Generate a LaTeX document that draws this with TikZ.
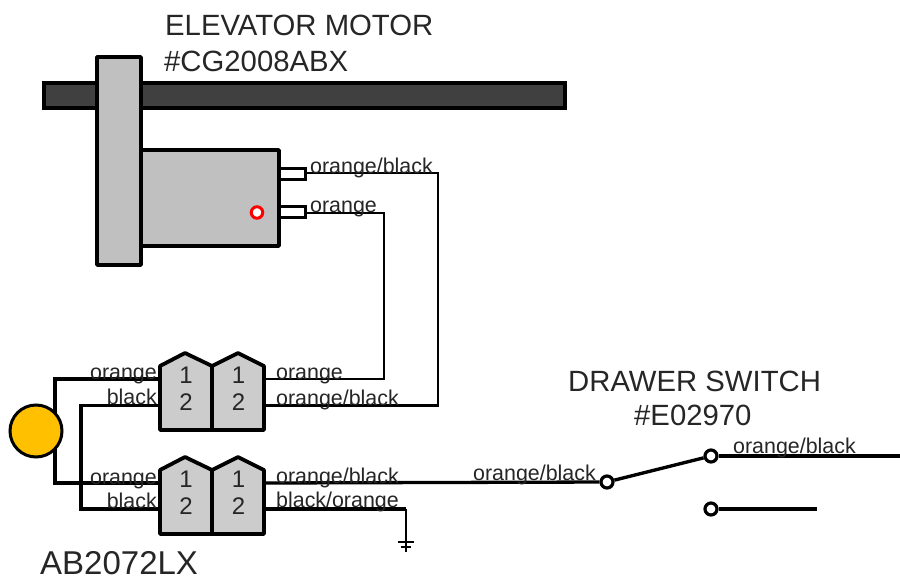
\documentclass[tikz,border=0pt]{standalone}
\usepackage{fontspec}
\setmainfont{Liberation Sans}
\begin{document}
\begin{tikzpicture}[x=1pt,y=-1pt,
  wire/.style={draw=black,line width=3.3pt,line join=miter},
  upwire/.style={draw=black,line width=2.6pt,line join=miter},
  thinwire/.style={draw=black,line width=2.4pt,line join=miter},
  part/.style={draw=black,line width=3.6pt,line join=round,fill=partgray},
  shell/.style={draw=black,line width=3.8pt,line join=round,fill=shellgray},
  lbl/.style={inner sep=0pt,font=\fontsize{21.4}{24}\selectfont,text=black!85},
  title/.style={inner sep=0pt,font=\fontsize{29.3}{32}\selectfont,text=black!85},
  num/.style={inner sep=0pt,font=\fontsize{24}{28}\selectfont,text=black!85},
  contact/.style={circle,draw=black,line width=3.2pt,fill=white,minimum size=12pt,inner sep=0pt}]
\definecolor{partgray}{HTML}{C0C0C0}
\definecolor{shellgray}{HTML}{CCCCCC}
\definecolor{bardark}{HTML}{404040}
\definecolor{lampor}{HTML}{FFC000}
\useasboundingbox (0,0) rectangle (900,578);
\fill[white] (0,0) rectangle (900,578);

% motor
\node[draw=black,line width=3.4pt,fill=bardark,minimum width=521pt,minimum height=25pt,inner sep=0pt] (bar) at (304.5,95.5) {};
\node[part,minimum width=44pt,minimum height=208pt,inner sep=0pt] (bracket) at (119,161) {};
\node[part,minimum width=138pt,minimum height=96pt,inner sep=0pt] (motor) at (210,198) {};
\node[draw=black,line width=3pt,fill=white,minimum width=26pt,minimum height=11pt,inner sep=0pt] (tabA) at (292,174) {};
\node[draw=black,line width=3pt,fill=white,minimum width=26pt,minimum height=11pt,inner sep=0pt] (tabB) at (292,212) {};
\node[circle,draw=red,line width=3pt,fill=white,minimum size=11.5pt,inner sep=0pt] (dot) at (257,212.5) {};

% junction coordinates
\coordinate (j1) at (55,379);
\coordinate (j2) at (55,483);
\coordinate (j3) at (81,405.5);
\coordinate (j4) at (81,509);
\coordinate (c1ol) at (160,379);
\coordinate (c1bl) at (160,405.5);
\coordinate (c2ol) at (160,483);
\coordinate (c2bl) at (160,509);
\coordinate (c1or) at (264,379);
\coordinate (c1br) at (264,405.5);
\coordinate (c2or) at (264,483);
\coordinate (c2br) at (264,509);
\coordinate (t1) at (384,379);
\coordinate (t2) at (384,213);
\coordinate (t3) at (438,405.5);
\coordinate (t4) at (438,173);
\coordinate (g1) at (406,509);
\coordinate (g2) at (406,552);
\coordinate (g3) at (398,542);
\coordinate (g4) at (414,542);
\coordinate (g5) at (401,547);
\coordinate (g6) at (411,547);
\coordinate (swend) at (900,456);
\coordinate (nc) at (817,509);

% wiring
\draw[wire] (c1ol) -- (j1) -- (j2) -- (c2ol);
\draw[wire] (c1bl) -- (j3) -- (j4) -- (c2bl);
\draw[upwire] (c1or) -- (t1) -- (t2) -- (tabB.east |- t2);
\draw[upwire] (c1br) -- (t3) -- (t4) -- (tabA.east |- t4);
\draw[upwire] (g1) -- (g2);
\draw[wire] (c2br) -- (g1);
\draw[thinwire] (g3) -- (g4);
\draw[thinwire] (g5) -- (g6);

% lamp
\node[circle,draw=black,line width=3pt,fill=lampor,minimum size=52pt,inner sep=0pt] (lamp) at (36,431) {};

% connectors
\foreach \n/\y in {a/0,b/104}{
  \draw[shell,yshift=-\y pt] (160,366) -- (185,353) -- (212,366) -- (212,430) -- (160,430) -- cycle;
  \draw[shell,yshift=-\y pt] (212,366) -- (238,353) -- (264,366) -- (264,430) -- (212,430) -- cycle;
  \node[num] (\n1l) at (186,375+\y) {1};
  \node[num] (\n2l) at (186,402+\y) {2};
  \node[num] (\n1r) at (238.5,375+\y) {1};
  \node[num] (\n2r) at (238.5,402+\y) {2};
}

% switch
\node[contact] (sa) at (607,482) {};
\node[contact] (sb) at (711,456) {};
\node[contact] (sc) at (711,509) {};
\draw[wire] (c2or) -- (sa);
\draw[wire] (sa) -- (sb);
\draw[wire] (sb) -- (swend);
\draw[wire] (sc) -- (nc);

% labels
\node[title,anchor=base west] (t-a) at (165,36) {ELEVATOR MOTOR};
\node[title,anchor=base west] (t-b) at (164,71) {\#CG2008ABX};
\node[title,anchor=base west] (t-c) at (568,391) {DRAWER SWITCH};
\node[title,anchor=base west] (t-d) at (634,425) {\#E02970};
\node[title,font=\fontsize{33}{36}\selectfont,anchor=base west] (t-e) at (40,574.5) {AB2072LX};
\node[lbl,anchor=base west] (l1) at (310,173) {orange/black};
\node[lbl,anchor=base west] (l2) at (310,212) {orange};
\node[lbl,anchor=base east] (l3) at (157,379) {orange};
\node[lbl,anchor=base east] (l4) at (157,404) {black};
\node[lbl,anchor=base east] (l5) at (157,484) {orange};
\node[lbl,anchor=base east] (l6) at (157,508) {black};
\node[lbl,anchor=base west] (l7) at (276,379) {orange};
\node[lbl,anchor=base west] (l8) at (276,405) {orange/black};
\node[lbl,anchor=base west] (l9) at (276,483) {orange/black};
\node[lbl,anchor=base west] (l10) at (276,507) {black/orange};
\node[lbl,anchor=base west] (l11) at (473,480) {orange/black};
\node[lbl,anchor=base west] (l12) at (733,453) {orange/black};
\end{tikzpicture}
\end{document}
